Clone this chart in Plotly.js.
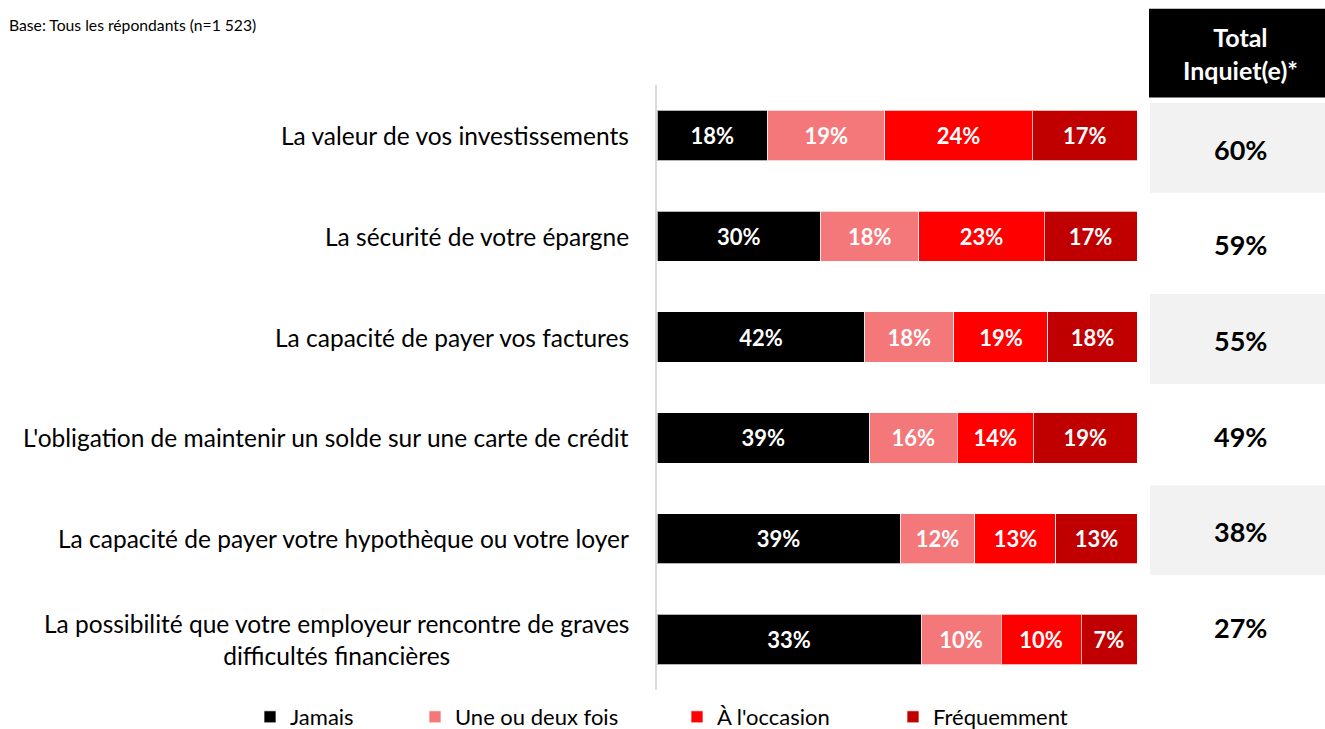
<!DOCTYPE html>
<html>
<head>
<meta charset="utf-8">
<script src="https://cdn.plot.ly/plotly-3.0.1.min.js"></script>
<style>
html,body{margin:0;padding:0;background:#fff;}
#chart{width:1325px;height:729px;}
</style>
</head>
<body>
<div id="chart"></div>
<script>
// ---- data ----
const categories = [
  "La valeur de vos investissements",
  "La sécurité de votre épargne",
  "La capacité de payer vos factures",
  "L'obligation de maintenir un solde sur une carte de crédit",
  "La capacité de payer votre hypothèque ou votre loyer",
  "La possibilité que votre employeur rencontre de graves<br>difficultés financières"
];
const seriesNames = ["Jamais", "Une ou deux fois", "À l'occasion", "Fréquemment"];
const jamais      = [18, 30, 42, 39, 39, 33];
const uneDeux     = [19, 18, 18, 16, 12, 10];
const occasion    = [24, 23, 19, 14, 13, 10];
const frequemment = [17, 17, 18, 19, 13, 7];
const totalInquiet = [60, 59, 55, 49, 38, 27];
const totalHeader = "Total<br>Inquiet(e)*";
const baseNote = "Base: Tous les répondants (n=1 523)";

// ---- styling ----
const colors = ["#000000", "#F4777A", "#FF0000", "#C00000"];
const W = 1325, H = 729;
const M = {l: 657, r: 188, t: 84.5, b: 38.5, autoexpand: false};
const plotW = W - M.l - M.r, plotH = H - M.t - M.b;
const px2x = p => (p - M.l) / plotW;
const px2y = p => (H - M.b - p) / plotH;
const FONT = "Lato, 'Open Sans', sans-serif";

const seriesVals = [jamais, uneDeux, occasion, frequemment];
const legendX = [265, 430, 692, 908];
const traces = seriesVals.map((vals, i) => ({
  type: "bar",
  orientation: "h",
  name: seriesNames[i],
  y: categories,
  x: vals,
  text: vals.map(v => v + "%"),
  textposition: "inside",
  insidetextanchor: "middle",
  textangle: 0,
  constraintext: "none",
  textfont: {family: FONT, size: 22, color: "#ffffff", weight: "bold"},
  marker: {color: colors[i], line: {color: "rgba(255,255,255,0.7)", width: 1}},
  hoverinfo: "skip",
  legend: i === 0 ? "legend" : "legend" + (i + 1)
}));

const annotations = [];
// category labels
categories.forEach(c => {
  annotations.push({
    xref: "paper", x: 0, xshift: -26, xanchor: "right",
    yref: "y", y: c, yanchor: "middle",
    text: c, showarrow: false, align: "center",
    font: {family: FONT, size: 24.5, color: "#000000"}
  });
});
// totals column
const rowCenter = i => 147.5 + i * 95.7;
const shapes = [];
shapes.push({type: "rect", xref: "paper", yref: "paper",
  x0: px2x(1149), x1: px2x(1325), y0: px2y(97), y1: px2y(8),
  fillcolor: "#000000", line: {width: 0}, layer: "below"});
annotations.push({
  xref: "paper", yref: "paper", x: px2x(1240), y: px2y(52.5),
  xanchor: "center", yanchor: "middle", showarrow: false, align: "center",
  text: "<b>" + totalHeader + "</b>",
  font: {family: FONT, size: 25, color: "#ffffff"}
});
totalInquiet.forEach((v, i) => {
  const c = rowCenter(i);
  if (i % 2 === 0) {
    shapes.push({type: "rect", xref: "paper", yref: "paper",
      x0: px2x(1150), x1: px2x(1325), y0: px2y(c + 45), y1: px2y(c - 45),
      fillcolor: "#F2F2F2", line: {width: 0}, layer: "below"});
  }
  annotations.push({
    xref: "paper", yref: "paper", x: px2x(1240), y: px2y(c + 1.5),
    xanchor: "center", yanchor: "middle", showarrow: false,
    text: "<b>" + v + "%</b>",
    font: {family: FONT, size: 27, color: "#000000"}
  });
});
// base note
annotations.push({
  xref: "paper", yref: "paper", x: px2x(7), y: px2y(24),
  xanchor: "left", yanchor: "middle", showarrow: false,
  text: baseNote, font: {family: FONT, size: 15.7, color: "#000000"}
});

const layout = {
  width: W, height: H,
  margin: M,
  paper_bgcolor: "#ffffff", plot_bgcolor: "#ffffff",
  barmode: "stack",
  barnorm: "percent",
  bargap: 0.5,
  font: {family: FONT, size: 18, color: "#000000"},
  xaxis: {range: [0, 100], visible: false, fixedrange: true},
  yaxis: {
    autorange: "reversed", showticklabels: false, ticks: "",
    showline: true, linecolor: "#D9D9D9", linewidth: 2,
    showgrid: false, zeroline: false, fixedrange: true
  },
  annotations: annotations,
  shapes: shapes,
  showlegend: true
};
const legendBase = {orientation: "h", xanchor: "left", yanchor: "middle",
  xref: "container", yref: "container",
  y: 1 - 717 / H, font: {family: FONT, size: 22, color: "#000000"},
  bgcolor: "rgba(0,0,0,0)", itemwidth: 30};
["legend", "legend2", "legend3", "legend4"].forEach((k, i) => {
  layout[k] = Object.assign({}, legendBase, {x: (legendX[i] - 15) / W});
});

Plotly.newPlot("chart", traces, layout, {displayModeBar: false, staticPlot: true});
</script>
</body>
</html>
